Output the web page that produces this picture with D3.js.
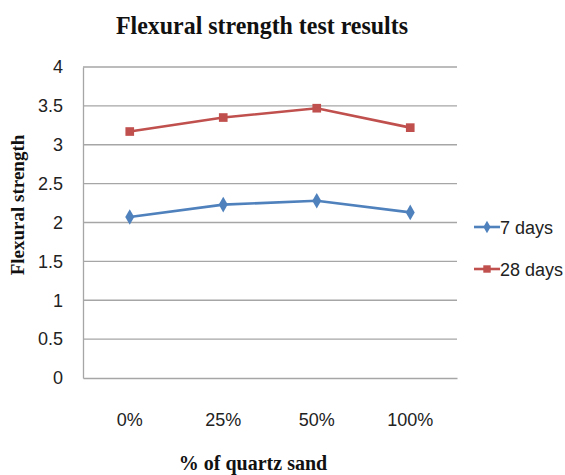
<!DOCTYPE html>
<html>
<head>
<meta charset="utf-8">
<script src="https://cdn.jsdelivr.net/npm/d3@7"></script>
<style>
  body { margin: 0; background: #fff; }
  svg { display: block; }
</style>
</head>
<body>
<div id="chart"></div>
<script>
// data
const categories = ['0%', '25%', '50%', '100%'];
const days7 = [2.07, 2.23, 2.28, 2.13];
const days28 = [3.17, 3.35, 3.47, 3.22];
const yTicks = [0, 0.5, 1, 1.5, 2, 2.5, 3, 3.5, 4];
const seriesNames = ['7 days', '28 days'];

const width = 565, height = 475;
const margin = { left: 83, right: 108, top: 67, bottom: 97 };

const svg = d3.select('#chart').append('svg')
  .attr('width', width)
  .attr('height', height);

const x = d3.scaleBand()
  .domain(categories)
  .range([margin.left, width - margin.right]);

const y = d3.scaleLinear()
  .domain([0, 4])
  .range([height - margin.bottom, margin.top]);

const tickFont = '"Liberation Sans", Arial, sans-serif';
const serif = '"Liberation Serif", "Times New Roman", serif';

// gridlines
svg.append('g')
  .selectAll('line')
  .data(yTicks.filter(d => d > 0))
  .join('line')
  .attr('x1', margin.left)
  .attr('x2', width - margin.right)
  .attr('y1', d => y(d))
  .attr('y2', d => y(d))
  .attr('stroke', '#a6a6a6')
  .attr('stroke-width', 1.3);

// axes
const yAxis = svg.append('g')
  .attr('transform', `translate(${margin.left},0)`)
  .call(d3.axisLeft(y).tickValues(yTicks).tickSize(0).tickPadding(20).tickFormat(d3.format('')));
yAxis.select('.domain').attr('stroke', '#a6a6a6').attr('stroke-width', 1.3);
yAxis.selectAll('text')
  .attr('font-family', tickFont)
  .attr('font-size', 18)
  .attr('fill', '#222');

const xAxis = svg.append('g')
  .attr('transform', `translate(0,${y(0)})`)
  .call(d3.axisBottom(x).tickSize(0).tickPadding(35));
xAxis.select('.domain').attr('stroke', '#a6a6a6').attr('stroke-width', 1.3);
xAxis.selectAll('text')
  .attr('font-family', tickFont)
  .attr('font-size', 18)
  .attr('fill', '#222');

// series
const colors = ['#4f81bd', '#c0504d'];
const allSeries = [days7, days28];
const line = d3.line()
  .x((d, i) => x(categories[i]) + x.bandwidth() / 2)
  .y(d => y(d));

allSeries.forEach((vals, s) => {
  svg.append('path')
    .datum(vals)
    .attr('fill', 'none')
    .attr('stroke', colors[s])
    .attr('stroke-width', 2.6)
    .attr('d', line);
});

const diamond = d3.symbol().type(d3.symbolDiamond).size(70);
const square = d3.symbol().type(d3.symbolSquare).size(75);

svg.append('g')
  .selectAll('path')
  .data(days7)
  .join('path')
  .attr('d', diamond)
  .attr('fill', colors[0])
  .attr('transform', (d, i) => `translate(${x(categories[i]) + x.bandwidth() / 2},${y(d)})`);

svg.append('g')
  .selectAll('path')
  .data(days28)
  .join('path')
  .attr('d', square)
  .attr('fill', colors[1])
  .attr('transform', (d, i) => `translate(${x(categories[i]) + x.bandwidth() / 2},${y(d)})`);

// legend
const legend = svg.append('g')
  .selectAll('g')
  .data(seriesNames)
  .join('g')
  .attr('transform', (d, i) => `translate(474,${227 + i * 42})`);
legend.append('line')
  .attr('x1', 0).attr('x2', 26)
  .attr('stroke', (d, i) => colors[i])
  .attr('stroke-width', 2.6);
legend.append('path')
  .attr('d', (d, i) => (i === 0 ? d3.symbol().type(d3.symbolDiamond).size(45) : d3.symbol().type(d3.symbolSquare).size(55))())
  .attr('transform', 'translate(13,0)')
  .attr('fill', (d, i) => colors[i]);
legend.append('text')
  .attr('x', 26)
  .attr('dy', '0.4em')
  .attr('font-family', tickFont)
  .attr('font-size', 18)
  .attr('fill', '#222')
  .text(d => d);

// titles
svg.append('text')
  .attr('x', 262)
  .attr('y', 34)
  .attr('text-anchor', 'middle')
  .attr('font-family', serif)
  .attr('font-weight', 'bold')
  .attr('font-size', 26)
  .attr('textLength', 292)
  .attr('lengthAdjust', 'spacingAndGlyphs')
  .attr('fill', '#111')
  .text('Flexural strength test results');

svg.append('text')
  .attr('x', 253)
  .attr('y', 470)
  .attr('text-anchor', 'middle')
  .attr('font-family', serif)
  .attr('font-weight', 'bold')
  .attr('font-size', 20)
  .attr('fill', '#111')
  .text('% of quartz sand');

svg.append('text')
  .attr('transform', 'translate(24,205) rotate(-90)')
  .attr('text-anchor', 'middle')
  .attr('font-family', serif)
  .attr('font-weight', 'bold')
  .attr('font-size', 19)
  .attr('fill', '#111')
  .text('Flexural strength');
</script>
</body>
</html>
